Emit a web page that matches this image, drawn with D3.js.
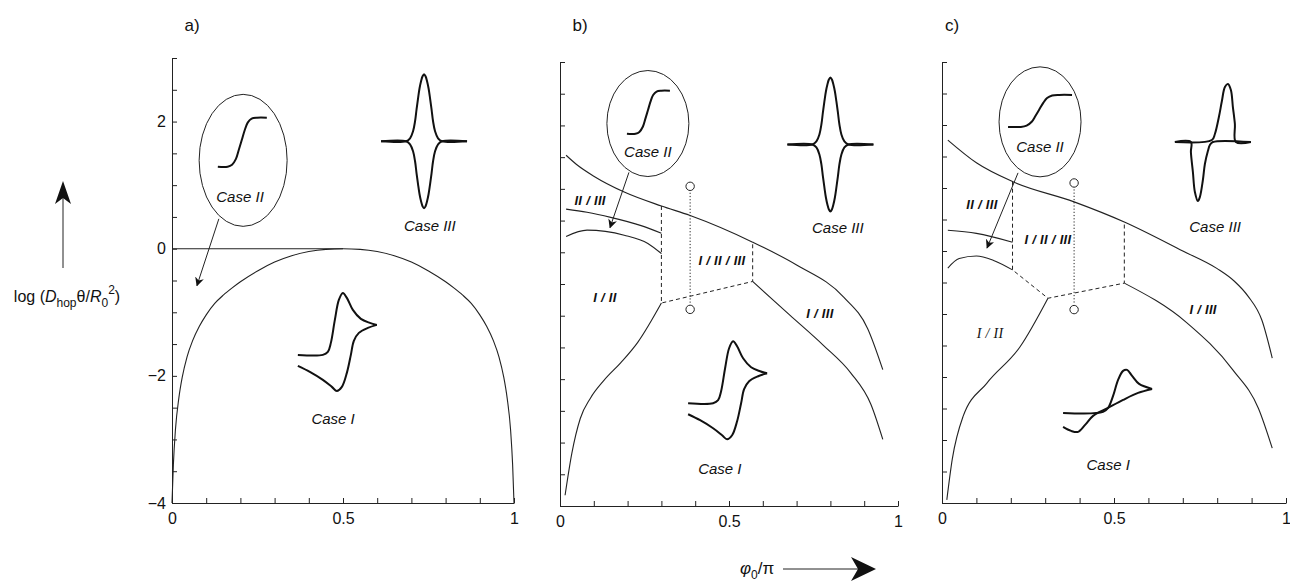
<!DOCTYPE html>
<html>
<head>
<meta charset="utf-8">
<script src="https://cdn.jsdelivr.net/npm/d3@7"></script>
<style>
  body { margin: 0; background: #fff; }
  text { font-family: "Liberation Sans", Arial, Helvetica, sans-serif; fill: #111; }
  .tick text { font-size: 16px; }
  .region { font-size: 13px; font-style: italic; font-weight: bold; letter-spacing: 0.3px; }
  .case { font-size: 15px; font-style: italic; }
</style>
</head>
<body>
<div id="chart"></div>
<script>
const svgWidth = 1290;
const svgHeight = 582;

// ticks
const xTickValues = [0, 0.1, 0.2, 0.3, 0.4, 0.5, 0.6, 0.7, 0.8, 0.9, 1];
const xTickLabels = ["0", "", "", "", "", "0.5", "", "", "", "", "1"];
const yTickValues = [-4, -3.5, -3, -2.5, -2, -1.5, -1, -0.5, 0, 0.5, 1, 1.5, 2, 2.5, 3];
const yTickLabels = ["\u22124", "", "", "", "\u22122", "", "", "", "0", "", "", "", "2", "", ""];

// panel a
const aPlateauX = [0, 0.5];
const aPlateauY = [0, 0];
const aBoundaryX = [0, 0.004, 0.01, 0.02, 0.03, 0.044, 0.06, 0.08, 0.1, 0.125, 0.15, 0.175, 0.2, 0.25, 0.3, 0.35, 0.4, 0.45, 0.5,
  0.55, 0.6, 0.65, 0.7, 0.75, 0.8, 0.825, 0.85, 0.875, 0.9, 0.92, 0.94, 0.956, 0.97, 0.98, 0.99, 0.996, 1];
const aBoundaryY = [-4, -3.4, -2.85, -2.35, -2.02, -1.7, -1.45, -1.22, -1.04, -0.86, -0.73, -0.62, -0.52, -0.35, -0.21, -0.11, -0.045, -0.01, 0,
  -0.01, -0.045, -0.11, -0.21, -0.35, -0.52, -0.62, -0.73, -0.86, -1.04, -1.22, -1.45, -1.7, -2.02, -2.35, -2.85, -3.4, -4];

// panel b
const bUpperX = [0.018, 0.05, 0.1, 0.19, 0.30, 0.385, 0.57, 0.70, 0.84, 0.91, 0.955];
const bUpperY = [1.53, 1.38, 1.2, 0.95, 0.73, 0.58, 0.16, -0.2, -0.71, -1.2, -1.85];
const bMidX = [0.018, 0.08, 0.15, 0.24, 0.30];
const bMidY = [0.68, 0.63, 0.55, 0.42, 0.30];
const bLowX = [0.018, 0.08, 0.19, 0.26, 0.30];
const bLowY = [0.25, 0.35, 0.27, 0.14, -0.02];
const bI2X = [0.015, 0.035, 0.06, 0.09, 0.13, 0.18, 0.23, 0.30];
const bI2Y = [-3.83, -3.17, -2.62, -2.3, -2.02, -1.74, -1.42, -0.8];
const bI3X = [0.57, 0.68, 0.78, 0.86, 0.92, 0.955];
const bI3Y = [-0.46, -0.99, -1.47, -1.9, -2.4, -2.95];
const bDashX = [0.30, 0.30, 0.57, 0.57];
const bDashY = [0.73, -0.8, -0.46, 0.16];
const bDotX = [0.385, 0.385];
const bDotY = [1.04, -0.8];

// panel c
const cUpperX = [0.017, 0.1, 0.206, 0.384, 0.53, 0.7, 0.8, 0.85, 0.89, 0.93, 0.96];
const cUpperY = [1.76, 1.4, 1.1, 0.78, 0.46, 0.0, -0.28, -0.48, -0.72, -1.1, -1.7];
const cMidX = [0.017, 0.1, 0.205];
const cMidY = [0.33, 0.28, 0.14];
const cLowX = [0.017, 0.05, 0.10, 0.15, 0.205];
const cLowY = [-0.27, -0.12, -0.08, -0.15, -0.3];
const cI2X = [0.014, 0.03, 0.061, 0.13, 0.227, 0.308];
const cI2Y = [-3.95, -3.3, -2.63, -2.1, -1.52, -0.75];
const cI3X = [0.53, 0.712, 0.846, 0.92, 0.96];
const cI3Y = [-0.51, -1.14, -1.89, -2.5, -3.13];
const cDashX = [0.205, 0.205, 0.308, 0.53, 0.53];
const cDashY = [1.1, -0.3, -0.75, -0.51, 0.46];
const cDotX = [0.384, 0.384];
const cDotY = [1.08, -0.83];

// inset sketches (local pixel offsets)
const sigmoidU = [0, 0.2, 0.29, 0.37, 0.43, 0.49, 0.55, 0.61, 0.69, 0.8, 1];
const sigmoidV = [0, 0, 0.04, 0.16, 0.35, 0.55, 0.75, 0.9, 0.98, 1, 1];
const cv1Upper = [[0,0],[25,0],[30,-3],[33,-12],[37,-35],[41,-55],[45,-62],[49,-57],[55,-45],[63,-36],[72,-32],[79,-30]];
const cv1Lower = [[79,-30],[70,-27],[61,-22],[56,-14],[53,0],[49,18],[44,32],[39,36],[34,32],[25,25],[12,17],[0,11]];
const cvcUpper = [[0,0],[40,-1],[45,-5],[50,-17],[55,-33],[60,-42],[64,-43],[69,-37],[76,-29],[89,-24]];
const cvcLower = [[89,-24],[75,-20],[60,-13],[45,-5],[30,3],[22,12],[15,19],[8,18],[0,14]];
const cv3cUpper = [[0,0],[37,-2],[40,-8],[44,-25],[47,-41],[50,-55],[53,-58],[56,-52],[58,-35],[60,-18],[61,0],[76,0]];
const cv3cLower = [[76,0],[38,0],[35,3],[33,9],[30,22],[28,38],[25,55],[23,59],[20,50],[18,30],[16,10],[16,0],[0,0]];
const peakHalf = [[-43,0],[-18,0],[-14,-3],[-11,-10],[-9,-20],[-7.5,-32],[-6,-43],[-4.5,-53],[-3,-60],[-1.5,-65],[0,-67],
  [1.5,-65],[3,-60],[4.5,-53],[6,-43],[7.5,-32],[9,-20],[11,-10],[14,-3],[18,0],[43,0]];

const svg = d3.select("#chart")
  .append("svg")
  .attr("width", svgWidth)
  .attr("height", svgHeight);

svg.append("defs").append("marker")
  .attr("id", "head")
  .attr("viewBox", "0 0 10 10")
  .attr("refX", 9).attr("refY", 5)
  .attr("markerWidth", 9).attr("markerHeight", 9)
  .attr("markerUnits", "userSpaceOnUse")
  .attr("orient", "auto")
  .append("path")
  .attr("d", "M0,0 L10,5 L0,10 L3,5 Z")
  .attr("fill", "#111");

const panels = [
  { key: "a", x0: 172, x1: 514, yt: 58, yb: 503, labelX: 192, showY: true },
  { key: "b", x0: 560, x1: 898, yt: 62, yb: 506, labelX: 580, showY: false },
  { key: "c", x0: 942, x1: 1286, yt: 62, yb: 503, labelX: 952, showY: false }
];

const zip = (xs, ys) => xs.map((v, i) => [v, ys[i]]);

function drawPanel(p) {
  const g = svg.append("g");
  const x = d3.scaleLinear().domain([0, 1]).range([p.x0, p.x1]);
  const y = d3.scaleLinear().domain([-4, 3]).range([p.yb, p.yt]);

  const xAxis = d3.axisBottom(x)
    .tickValues(xTickValues)
    .tickSizeInner(-5).tickSizeOuter(0).tickPadding(10)
    .tickFormat((d, i) => xTickLabels[i]);
  const yAxis = d3.axisLeft(y)
    .tickValues(yTickValues)
    .tickSizeInner(-5).tickSizeOuter(0).tickPadding(6)
    .tickFormat((d, i) => p.showY ? yTickLabels[i] : "");

  g.append("g").attr("transform", `translate(0,${p.yb})`).call(xAxis)
    .call(s => s.selectAll("path,line").attr("stroke", "#222"));
  g.append("g").attr("transform", `translate(${p.x0},0)`).call(yAxis)
    .call(s => s.selectAll("path,line").attr("stroke", "#222"));

  g.append("text")
    .attr("x", p.labelX).attr("y", 31)
    .attr("text-anchor", "middle")
    .attr("font-size", 17)
    .text(p.key + ")");

  const line = d3.line().x(d => x(d[0])).y(d => y(d[1])).curve(d3.curveMonotoneX);
  const poly = d3.line().x(d => x(d[0])).y(d => y(d[1]));

  p.line = (pts, opts = {}) => g.append("path")
    .attr("d", (opts.straight ? poly : line)(pts))
    .attr("fill", "none")
    .attr("stroke", "#222")
    .attr("stroke-width", opts.w || 1.1)
    .attr("stroke-dasharray", opts.dash || null);
  p.g = g; p.x = x; p.y = y;
  return p;
}

function sigmoid(p, px, py, w, h) {
  const pts = sigmoidU.map((u, i) => [p.x(px) + u * w, p.y(py) - sigmoidV[i] * h]);
  p.g.append("path").attr("d", d3.line().curve(d3.curveCatmullRom)(pts))
    .attr("fill", "none").attr("stroke", "#111").attr("stroke-width", 2);
}

function sketch(p, px, py, pts, flipY) {
  const ox = p.x(px), oy = p.y(py);
  const s = pts.map(d => [ox + d[0], oy + (flipY ? -d[1] : d[1])]);
  p.g.append("path").attr("d", d3.line().curve(d3.curveCatmullRom)(s))
    .attr("fill", "none").attr("stroke", "#111").attr("stroke-width", 2);
}

function ellipse(p, px, py, rx, ry) {
  p.g.append("ellipse").attr("cx", p.x(px)).attr("cy", p.y(py))
    .attr("rx", rx).attr("ry", ry)
    .attr("fill", "none").attr("stroke", "#222").attr("stroke-width", 1);
}

function label(p, px, py, txt, cls, extra) {
  const t = p.g.append("text").attr("x", p.x(px)).attr("y", p.y(py))
    .attr("text-anchor", "middle").attr("class", cls).text(txt);
  if (extra) extra(t);
}

function arrow(p, ax, ay, bx, by) {
  p.g.append("line")
    .attr("x1", p.x(ax)).attr("y1", p.y(ay))
    .attr("x2", p.x(bx)).attr("y2", p.y(by))
    .attr("stroke", "#222").attr("stroke-width", 1)
    .attr("marker-end", "url(#head)");
}

function circleAt(p, px, py) {
  p.g.append("circle").attr("cx", p.x(px)).attr("cy", p.y(py)).attr("r", 4.2)
    .attr("fill", "#fff").attr("stroke", "#222").attr("stroke-width", 1);
}

const [pa, pb, pc] = panels.map(drawPanel);

// ---- panel a
pa.line(zip(aPlateauX, aPlateauY), { straight: true });
pa.line(zip(aBoundaryX, aBoundaryY));
ellipse(pa, 0.208, 1.39, 44, 66);
sigmoid(pa, 0.134, 1.29, 49, 49);
label(pa, 0.199, 0.74, "Case II", "case");
arrow(pa, 0.137, 0.47, 0.073, -0.58);
sketch(pa, 0.737, 1.69, peakHalf, false);
sketch(pa, 0.737, 1.69, peakHalf, true);
label(pa, 0.754, 0.28, "Case III", "case");
sketch(pa, 0.368, -1.67, cv1Upper, false);
sketch(pa, 0.368, -1.67, cv1Lower, false);
label(pa, 0.471, -2.76, "Case I", "case");

// ---- panel b
pb.line(zip(bUpperX, bUpperY));
pb.line(zip(bMidX, bMidY));
pb.line(zip(bLowX, bLowY));
pb.line(zip(bI2X, bI2Y));
pb.line(zip(bI3X, bI3Y));
pb.line(zip(bDashX, bDashY), { straight: true, dash: "4,3", w: 1 });
pb.line(zip(bDotX, bDotY), { straight: true, dash: "1.2,2", w: 1 });
circleAt(pb, bDotX[0], bDotY[0]);
circleAt(pb, bDotX[1], bDotY[1] - 0.1);
ellipse(pb, 0.26, 2.03, 41, 53);
sigmoid(pb, 0.198, 1.87, 43, 43);
label(pb, 0.26, 1.5, "Case II", "case");
arrow(pb, 0.204, 1.26, 0.148, 0.39);
sketch(pb, 0.80, 1.70, peakHalf, false);
sketch(pb, 0.80, 1.70, peakHalf, true);
label(pb, 0.822, 0.30, "Case III", "case");
sketch(pb, 0.379, -2.38, cv1Upper, false);
sketch(pb, 0.379, -2.38, cv1Lower, false);
label(pb, 0.473, -3.49, "Case I", "case");
label(pb, 0.089, 0.74, "II / III", "region");
label(pb, 0.479, -0.2, "I / II / III", "region");
label(pb, 0.133, -0.79, "I / II", "region");
label(pb, 0.769, -1.04, "I / III", "region");

// ---- panel c
pc.line(zip(cUpperX, cUpperY));
pc.line(zip(cMidX, cMidY));
pc.line(zip(cLowX, cLowY));
pc.line(zip(cI2X, cI2Y));
pc.line(zip(cI3X, cI3Y));
pc.line(zip(cDashX, cDashY), { straight: true, dash: "4,3", w: 1 });
pc.line(zip(cDotX, cDotY), { straight: true, dash: "1.2,2", w: 1 });
circleAt(pc, cDotX[0], cDotY[0]);
circleAt(pc, cDotX[1], cDotY[1] - 0.1);
ellipse(pc, 0.285, 2.05, 41, 55);
sigmoid(pc, 0.192, 1.97, 64, 32);
label(pc, 0.285, 1.57, "Case II", "case");
arrow(pc, 0.221, 1.24, 0.131, 0.05);
sketch(pc, 0.677, 1.73, cv3cUpper, false);
sketch(pc, 0.677, 1.73, cv3cLower, false);
label(pc, 0.794, 0.30, "Case III", "case");
sketch(pc, 0.352, -2.57, cvcUpper, false);
sketch(pc, 0.352, -2.57, cvcLower, false);
label(pc, 0.483, -3.48, "Case I", "case");
label(pc, 0.116, 0.67, "II / III", "region");
label(pc, 0.308, 0.11, "I / II / III", "region");
label(pc, 0.14, -1.38, "I / II", "region", t => t.style("font-family", "'Liberation Serif', serif").style("font-size", "14px").style("font-weight", "normal"));
label(pc, 0.759, -1.0, "I / III", "region");

// ---- shared axis titles
const yTitle = svg.append("text").attr("x", 67).attr("y", 302)
  .attr("text-anchor", "middle").attr("font-size", 16);
yTitle.append("tspan").text("log (");
yTitle.append("tspan").attr("font-style", "italic").text("D");
yTitle.append("tspan").attr("font-size", 12).attr("dy", 5).text("hop");
yTitle.append("tspan").attr("dy", -5).text("\u03b8/");
yTitle.append("tspan").attr("font-style", "italic").text("R");
yTitle.append("tspan").attr("font-size", 12).attr("dy", 5).text("0");
yTitle.append("tspan").attr("font-size", 12).attr("dy", -13).text("2");
yTitle.append("tspan").attr("dy", 8).text(")");

svg.append("line").attr("x1", 63).attr("y1", 268).attr("x2", 63).attr("y2", 196)
  .attr("stroke", "#222").attr("stroke-width", 1);
svg.append("path").attr("d", "M63,181 L71,204 L63,198 L55,204 Z").attr("fill", "#111");

const xTitle = svg.append("text").attr("x", 740).attr("y", 574)
  .attr("font-family", "'Liberation Serif', serif").attr("font-size", 17);
xTitle.append("tspan").attr("font-style", "italic").text("\u03c6");
xTitle.append("tspan").attr("font-size", 12).attr("dy", 5).text("0");
xTitle.append("tspan").attr("dy", -5).text("/\u03c0");

svg.append("line").attr("x1", 783).attr("y1", 569).attr("x2", 862).attr("y2", 569)
  .attr("stroke", "#222").attr("stroke-width", 1);
svg.append("path").attr("d", "M876,569 L851,557 L858,569 L851,581 Z").attr("fill", "#111");
</script>
</body>
</html>
